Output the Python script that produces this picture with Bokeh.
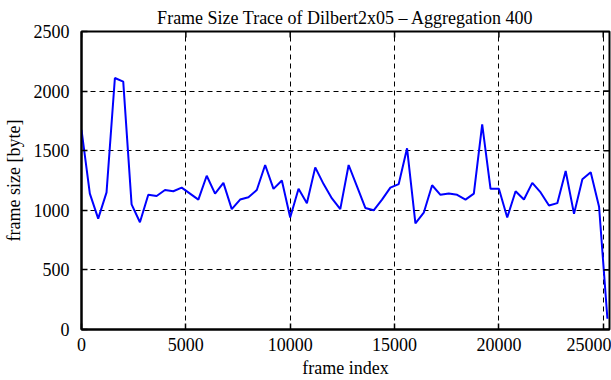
import math
from bokeh.plotting import figure
from bokeh.models import FixedTicker, Range1d
from bokeh.embed import file_html
from bokeh.resources import INLINE

frame_index = [0, 400, 800, 1200, 1600, 2000, 2400, 2800, 3200, 3600,
               4000, 4400, 4800, 5200, 5600, 6000, 6400, 6800, 7200, 7600,
               8000, 8400, 8800, 9200, 9600, 10000, 10400, 10800, 11200, 11600,
               12000, 12400, 12800, 13200, 13600, 14000, 14400, 14800, 15200, 15600,
               16000, 16400, 16800, 17200, 17600, 18000, 18400, 18800, 19200, 19600,
               20000, 20400, 20800, 21200, 21600, 22000, 22400, 22800, 23200, 23600,
               24000, 24400, 24800, 25200]
frame_size = [1675, 1140, 930, 1150, 2110, 2080, 1050, 900, 1130, 1120,
              1170, 1160, 1190, 1140, 1090, 1290, 1140, 1230, 1010, 1090,
              1110, 1170, 1380, 1180, 1250, 940, 1180, 1060, 1360, 1220,
              1100, 1010, 1380, 1200, 1020, 1000, 1090, 1190, 1220, 1520,
              890, 980, 1210, 1130, 1140, 1130, 1090, 1140, 1720, 1180,
              1180, 940, 1160, 1090, 1230, 1150, 1040, 1060, 1330, 970,
              1260, 1320, 1030, 90]
x_ticks = [0, 5000, 10000, 15000, 20000, 25000]
y_ticks = [0, 500, 1000, 1500, 2000, 2500]
x_end = 25300
y_end = 2500

FONT = "Liberation Serif"

p = figure(width=611, height=380, output_backend="svg", toolbar_location=None,
           x_range=Range1d(0, x_end), y_range=Range1d(0, y_end),
           title="Frame Size Trace of Dilbert2x05 \u2013 Aggregation 400",
           min_border_left=80, min_border_right=2, min_border_top=31, min_border_bottom=49)

p.title.text_font = FONT
p.title.text_font_size = "18px"
p.title.text_font_style = "normal"
p.title.align = "center"
p.title.text_color = "black"
p.title.standoff = 7

p.line(frame_index, frame_size, line_color="#0000ff", line_width=2)

for ax in (p.xaxis[0], p.yaxis[0]):
    ax.major_label_text_font = FONT
    ax.major_label_text_font_size = "18px"
    ax.major_label_text_color = "black"
    ax.axis_label_text_font = FONT
    ax.axis_label_text_font_size = "18px"
    ax.axis_label_text_font_style = "normal"
    ax.axis_label_text_color = "black"
    ax.major_tick_in = 6
    ax.major_tick_out = 0
    ax.minor_tick_in = 0
    ax.minor_tick_out = 0
    ax.axis_line_width = 2
    ax.axis_line_color = "black"
    ax.major_tick_line_color = "black"
    ax.major_tick_line_width = 1.5

p.xaxis[0].ticker = FixedTicker(ticks=x_ticks)
p.yaxis[0].ticker = FixedTicker(ticks=y_ticks)
p.xaxis[0].axis_label = "frame index"
p.yaxis[0].axis_label = "frame size [byte]"
p.xaxis[0].major_label_standoff = 8
p.yaxis[0].major_label_standoff = 12
p.xaxis[0].axis_label_standoff = 4
p.yaxis[0].axis_label_standoff = 7

# inward tick marks on the top and right edges of the box
p.ray(x=x_ticks, y=[y_end] * len(x_ticks), length=6, length_units="screen",
      angle=-math.pi / 2, line_color="black", line_width=1.5)
p.ray(x=[x_end] * len(y_ticks), y=y_ticks, length=6, length_units="screen",
      angle=math.pi, line_color="black", line_width=1.5)

p.xgrid.ticker = FixedTicker(ticks=x_ticks)
p.ygrid.ticker = FixedTicker(ticks=y_ticks)
for g in (p.xgrid[0], p.ygrid[0]):
    g.grid_line_color = "black"
    g.grid_line_dash = "5 4"
    g.grid_line_width = 1

p.outline_line_color = "black"
p.outline_line_width = 2
p.background_fill_color = "white"
p.border_fill_color = "white"

open("out.html", "w").write(file_html(p, INLINE))
